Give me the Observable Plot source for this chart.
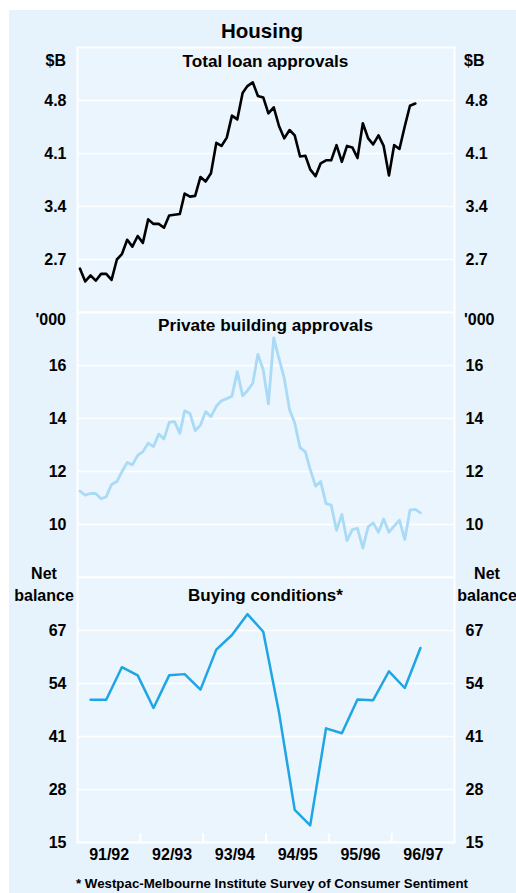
<!DOCTYPE html>
<html><head><meta charset="utf-8">
<script src="https://cdn.jsdelivr.net/npm/d3@7"></script>
<script src="https://cdn.jsdelivr.net/npm/@observablehq/plot@0.6"></script>
<style>
html,body{margin:0;padding:0;background:#fff;}
#wrap{position:relative;width:516px;height:893px;overflow:hidden;font-family:"Liberation Sans",Arial,sans-serif;font-weight:bold;color:#000;}
#bg{position:absolute;left:9px;top:10px;right:0;bottom:0;background:#e6f2fc;}
.lbl{position:absolute;white-space:nowrap;line-height:1;}
.plot{position:absolute;left:0;}
</style></head><body><div id="wrap"><div id="bg"></div></div>
<script>
// ---- Data ----
const loanValues = [
  2.58, 2.41, 2.49, 2.42, 2.51, 2.51, 2.43, 2.70, 2.77, 2.96,
  2.87, 3.01, 2.92, 3.23, 3.17, 3.17, 3.12, 3.28, 3.29, 3.30,
  3.57, 3.53, 3.54, 3.79, 3.73, 3.84, 4.24, 4.20, 4.31, 4.60,
  4.55, 4.90, 4.99, 5.04, 4.86, 4.84, 4.63, 4.71, 4.46, 4.30,
  4.41, 4.34, 4.06, 4.07, 3.89, 3.80, 3.97, 4.01, 4.01, 4.21,
  3.99, 4.20, 4.18, 4.04, 4.50, 4.30, 4.22, 4.34, 4.20, 3.81,
  4.21, 4.16, 4.46, 4.73, 4.76
];
const buildingValues = [
  11.26, 11.11, 11.17, 11.17, 10.97, 11.05, 11.51, 11.62, 11.99, 12.34,
  12.25, 12.61, 12.75, 13.07, 12.94, 13.41, 13.23, 13.85, 13.88, 13.44,
  14.29, 14.19, 13.54, 13.75, 14.26, 14.07, 14.46, 14.67, 14.75, 14.84,
  15.77, 14.86, 15.05, 15.33, 16.42, 15.84, 14.55, 17.04, 16.25, 15.52,
  14.33, 13.83, 12.90, 12.74, 12.08, 11.45, 11.62, 10.79, 10.73, 9.78,
  10.38, 9.39, 9.81, 9.85, 9.11, 9.91, 10.06, 9.71, 10.21, 9.71,
  9.94, 10.16, 9.43, 10.54, 10.57, 10.44
];
const buyingValues = [
  50, 50, 58, 56, 48, 56, 56.3, 52.5, 62.3, 65.9, 71, 66.7,
  46.8, 23, 19.2, 43, 41.8, 50.1, 49.9, 57, 52.9, 62.7
];
const loanTicks = [2.7, 3.4, 4.1, 4.8];
const buildingTicks = [10, 12, 14, 16];
const buyingTicks = [15, 28, 41, 54, 67];
const fiscalLabels = ["91/92", "92/93", "93/94", "94/95", "95/96", "96/97"];

// ---- Derived tables ----
const monthly = (vals) => vals.map((v, i) => ({date: new Date(Date.UTC(1991, 6 + i, 15)), value: v}));
const quarterly = (vals) => vals.map((v, i) => ({date: new Date(Date.UTC(1991, 8 + 3 * i, 15)), value: v}));
const xDomain = [new Date(Date.UTC(1991, 6, 1)), new Date(Date.UTC(1997, 6, 1))];
const fiscalMid = fiscalLabels.map((_, i) => new Date(Date.UTC(1992 + i, 0, 1)));
const yearBounds = fiscalLabels.slice(1).map((_, i) => new Date(Date.UTC(1992 + i, 6, 1)));

const wrap = document.getElementById("wrap");
const FONT = '"Liberation Sans", Arial, sans-serif';
const PLOT_BG = "#ebf5fe";
const H = 265;

function panel({data, color, sw, domain, ticks, fmt, top, bottomAxis}) {
  const mt = 12, mb = bottomAxis ? 32 : 12;
  const marks = [
    Plot.frame({fill: PLOT_BG, stroke: null}),
    Plot.ruleY(ticks, {stroke: "white", strokeWidth: 1.6}),
    Plot.frame({stroke: "white", strokeWidth: 2})
  ];
  if (bottomAxis) marks.push(Plot.ruleX(yearBounds, {x: d => d, stroke: "white", strokeWidth: 2, insetTop: H - 9}));
  marks.push(Plot.line(data, {x: "date", y: "value", stroke: color, strokeWidth: sw}));
  const svg = Plot.plot({
    width: 516, height: H + mt + mb,
    marginLeft: 77, marginRight: 62, marginTop: mt, marginBottom: mb,
    style: {background: "transparent", fontFamily: FONT, fontSize: "16px", fontWeight: "bold", color: "#000", overflow: "visible"},
    x: {type: "utc", domain: xDomain, label: null,
        axis: bottomAxis ? "bottom" : null, ticks: fiscalMid,
        tickFormat: d => fiscalLabels[fiscalMid.findIndex(m => +m === +d)],
        tickSize: 0, tickPadding: 6},
    y: {domain, label: null, axis: "both", ticks, tickFormat: fmt, tickSize: 0, tickPadding: 11},
    marks
  });
  svg.classList.add("plot");
  svg.style.position = "absolute";
  svg.style.left = "0px";
  svg.style.top = (top - mt) + "px";
  wrap.appendChild(svg);
}

function label(text, x, y, anchor, size) {
  const d = document.createElement("div");
  d.className = "lbl";
  d.textContent = text;
  d.style.left = x + "px";
  d.style.top = y + "px";
  d.style.fontSize = size + "px";
  const tx = anchor === "start" ? "0" : anchor === "end" ? "-100%" : "-50%";
  d.style.transform = `translate(${tx}, -50%)`;
  wrap.appendChild(d);
}

panel({data: monthly(loanValues), color: "#000", sw: 2.6, domain: [2.0, 5.5], ticks: loanTicks, fmt: d => d.toFixed(1), top: 47});
panel({data: monthly(buildingValues), color: "#a9dbf6", sw: 2.8, domain: [8, 18], ticks: buildingTicks, fmt: d => String(d), top: 312});
panel({data: quarterly(buyingValues), color: "#1ea5e6", sw: 2.5, domain: [15, 80], ticks: buyingTicks, fmt: d => String(d), top: 577, bottomAxis: true});

label("Housing", 262, 31, "middle", 20.5);
label("$B", 66, 61, "end", 16);
label("$B", 464, 61, "start", 16);
label("Total loan approvals", 265.5, 62, "middle", 17.2);
label("'000", 66, 320, "end", 16);
label("'000", 464, 320, "start", 16);
label("Private building approvals", 265.5, 326, "middle", 17.2);
label("Net", 44, 574, "middle", 16);
label("balance", 44, 596, "middle", 16);
label("Net", 487, 574, "middle", 16);
label("balance", 487, 596, "middle", 16);
label("Buying conditions*", 265.5, 595, "middle", 17);
label("* Westpac-Melbourne Institute Survey of Consumer Sentiment", 272, 884, "middle", 13.3);
</script></body></html>
